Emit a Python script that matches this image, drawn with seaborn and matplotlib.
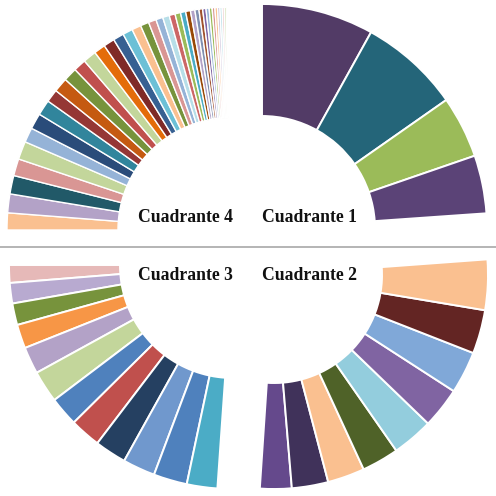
import matplotlib
matplotlib.use("Agg")
import matplotlib.pyplot as plt
import seaborn as sns
import numpy as np

sns.set_theme(style="white")
plt.rcParams['font.family'] = ['Liberation Serif', 'DejaVu Serif']

# ---------------- data ----------------
q1_values = [29, 26, 16, 15]
q1_colors = ["#523B66", "#246579", "#9BBB59", "#5B4377"]

q2_values = [8.6, 9.9, 10.1, 10.1, 11.2, 11.1, 11.5, 11.9, 13.7]
q2_colors = ["#65498C", "#40325A", "#FAC090", "#4F6228", "#93CDDD",
             "#8064A2", "#80A8D8", "#632523", "#FAC090"]

q3_values = [4.6, 5.3, 5.6, 6.2, 7.0, 8.3, 7.6, 8.0, 8.2, 8.4, 8.7, 7.9]
q3_colors = ["#E6B9B8", "#B8AAD0", "#77933C", "#F79646", "#B3A2C7", "#C3D69B",
             "#4F81BD", "#C0504D", "#254061", "#7098CD", "#4F81BD", "#4BACC6"]

q4_values = [4.6, 5.1, 5.0, 4.6, 4.9, 4.0, 4.3, 4.2, 3.5, 3.9, 3.7, 3.4, 3.6,
             3.1, 3.0, 2.9, 2.7, 2.5, 2.3, 2.1, 1.9, 1.8, 1.6, 1.5, 1.4, 1.3,
             1.2, 1.1, 1.0, 0.9, 0.85, 0.8, 0.75, 0.7, 0.65, 0.6, 0.55, 0.5]
q4_colors = ["#FAC090", "#B3A2C7", "#215968", "#D99694", "#C3D69B", "#95B3D7",
             "#2A4C7A", "#31859C", "#953735", "#C55A11", "#77933C", "#C0504D",
             "#C3D69B", "#E46C0A", "#7F2A27", "#376092", "#6CC0D6", "#FAC090",
             "#77933C", "#D99694", "#95B3D7", "#B7DEE8", "#CC6666", "#9BBB59",
             "#4BACC6", "#984807", "#B3A2C7", "#7F8FB0", "#A0522D", "#8064A2",
             "#95B3D7", "#9BBB59", "#D99694", "#FAC090", "#CCC1DA", "#B7DEE8",
             "#E6B9B8", "#C3D69B"]

labels = ["Cuadrante 1", "Cuadrante 2", "Cuadrante 3", "Cuadrante 4"]

# ---------------- layout ----------------
W = H = 496
fig = plt.figure(figsize=(4.96, 4.96), dpi=100)
ax = fig.add_axes([0, 0, 1, 1])


def quadrant(values, colors, center_px, R, r, start, span, ccw, lw=1.4):
    vals = np.asarray(values, dtype=float)
    fr = vals / vals.sum() * span / 360.0
    cx, cy = center_px
    ax.pie(fr, colors=colors, startangle=start, counterclock=ccw,
           center=(cx, H - cy), radius=R, normalize=False,
           wedgeprops=dict(width=R - r, edgecolor="white", linewidth=lw))


quadrant(q1_values, q1_colors, (262, 229), 225, 113, 90, 86, False)
quadrant(q4_values, q4_colors, (230, 230), 223, 112, 180, 89, False, lw=1.0)
quadrant(q3_values, q3_colors, (233, 265), 224, 113, 180, 86, True)
quadrant(q2_values, q2_colors, (274, 275), 214, 108, 266.2, 98, True)

ax.plot([0, W], [H - 247, H - 247], color="#A0A0A0", lw=1.1)

tkw = dict(fontsize=12.7, fontweight="bold", va="center", ha="left",
           color="#111111")
ax.text(262, H - 218, labels[0], **tkw)
ax.text(262, H - 275, labels[1], **tkw)
ax.text(138, H - 275, labels[2], **tkw)
ax.text(138, H - 218, labels[3], **tkw)

ax.set_xlim(0, W)
ax.set_ylim(0, H)
ax.set_aspect("equal")
ax.axis("off")
fig.savefig("out.png", dpi=100, facecolor="white")
